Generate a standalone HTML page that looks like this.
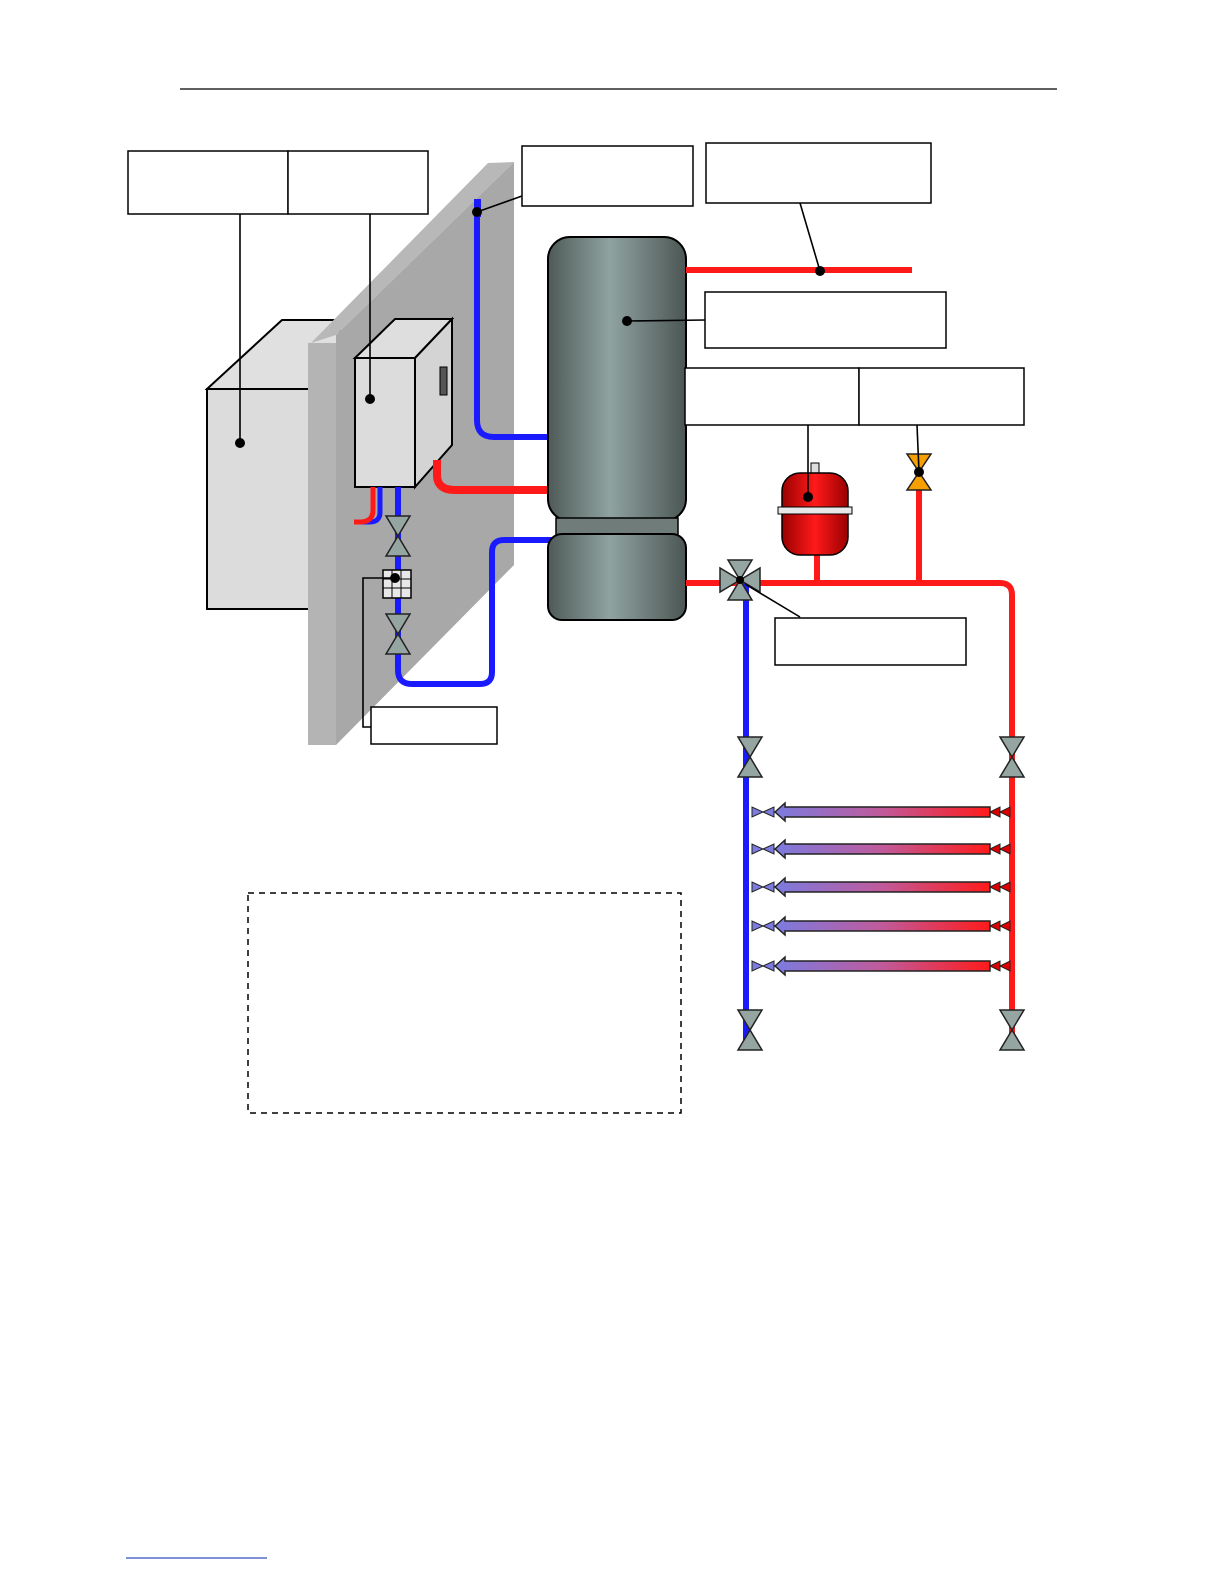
<!DOCTYPE html>
<html><head><meta charset="utf-8"><style>body{margin:0;background:#fff}svg{display:block}</style></head><body>
<svg width="1224" height="1584" viewBox="0 0 1224 1584" xmlns="http://www.w3.org/2000/svg">
<defs>
<linearGradient id="tank" x1="0" x2="1" y1="0" y2="0"><stop offset="0" stop-color="#4f5a58"/><stop offset="0.45" stop-color="#8fa3a0"/><stop offset="1" stop-color="#4c5654"/></linearGradient>
<linearGradient id="exp" x1="0" x2="1"><stop offset="0" stop-color="#9a0000"/><stop offset="0.5" stop-color="#ff1a1a"/><stop offset="1" stop-color="#9a0000"/></linearGradient>
<linearGradient id="arr" x1="0" x2="1"><stop offset="0" stop-color="#7b7be0"/><stop offset="0.5" stop-color="#c05a9a"/><stop offset="1" stop-color="#ff1a1a"/></linearGradient>
<g id="valve"><polygon points="-12,-20 12,-20 0,0" fill="#95a5a2" stroke="#222" stroke-width="1.5"/><polygon points="-12,20 12,20 0,0" fill="#95a5a2" stroke="#222" stroke-width="1.5"/></g>
<g id="arrow"><polygon points="0,0 10,-9 10,-5 215,-5 215,5 10,5 10,9" fill="url(#arr)" stroke="#222" stroke-width="1.5"/><polygon points="-23,-5 -23,5 -12,0" fill="#7b7be0" stroke="#222"/><polygon points="-1,-5 -1,5 -12,0" fill="#7b7be0" stroke="#222"/><polygon points="215,0 225,-5 225,5" fill="#d00" stroke="#222"/><polygon points="235,-5 235,5 225,0" fill="#d00" stroke="#222"/></g>
</defs>
<line x1="180" y1="89" x2="1057" y2="89" stroke="#000" stroke-width="1.2"/>
<!-- boiler -->
<polygon points="207,389 282,320 340,320 340,389" fill="#e0e0e0" stroke="#000" stroke-width="2"/>
<rect x="207" y="389" width="110" height="220" fill="#dcdcdc" stroke="#000" stroke-width="2"/>
<!-- wall -->
<polygon points="336,335 514,162 514,565 336,745" fill="#a8a8a8"/>
<polygon points="311,343 336,335 514,162 488,163" fill="#b8b8b8"/>
<rect x="308" y="343" width="28" height="402" fill="#b4b4b4"/>
<!-- controller box -->
<polygon points="355,358 395,319 452,319 415,358" fill="#dedede" stroke="#000" stroke-width="2"/>
<polygon points="415,358 452,319 452,445 415,487" fill="#d4d4d4" stroke="#000" stroke-width="2"/>
<rect x="355" y="358" width="60" height="129" fill="#dcdcdc" stroke="#000" stroke-width="2"/>
<rect x="440" y="367" width="7" height="28" fill="#555" stroke="#000"/>
<!-- pipes left -->
<g fill="none" stroke-linecap="butt">
<path d="M477,200 V420 Q477,437 494,437 H548" stroke="#1a1aff" stroke-width="6"/>
<path d="M437,460 V475 Q437,490 455,490 H548" stroke="#ff1a1a" stroke-width="8"/>
<path d="M380,487 V512 Q380,522 370,522 H357" stroke="#1a1aff" stroke-width="5"/>
<path d="M373,487 V510 Q373,522 360,522 H354" stroke="#ff1a1a" stroke-width="5"/>
<path d="M398,487 V670 Q398,684 412,684 H480 Q492,684 492,672 V552 Q492,540 504,540 H555" stroke="#1a1aff" stroke-width="6"/>
</g>
<rect x="474" y="199" width="7" height="18" fill="#1a1aff"/>
<use href="#valve" x="398" y="536"/>
<use href="#valve" x="398" y="634"/>
<rect x="383" y="570" width="28" height="28" fill="#e8e8e8" stroke="#000" stroke-width="1.5"/>
<path d="M383,579H411M383,588H411M392,570V598M401,570V598" stroke="#000"/>
<!-- tank -->
<rect x="548" y="237" width="138" height="284" rx="22" fill="url(#tank)" stroke="#000" stroke-width="2"/>
<rect x="556" y="518" width="122" height="20" fill="#6f7c7a" stroke="#000" stroke-width="1.5"/>
<rect x="548" y="534" width="138" height="86" rx="14" fill="url(#tank)" stroke="#000" stroke-width="2"/>
<!-- right pipes -->
<g fill="none">
<line x1="686" y1="270" x2="912" y2="270" stroke="#ff1a1a" stroke-width="6"/>
<path d="M686,583 H1000 Q1012,583 1012,595 V1040" stroke="#ff1a1a" stroke-width="6"/>
<line x1="746" y1="583" x2="746" y2="1040" stroke="#1a1aff" stroke-width="6"/>
<line x1="919" y1="490" x2="919" y2="583" stroke="#ff1a1a" stroke-width="6"/>
<line x1="817" y1="555" x2="817" y2="583" stroke="#ff1a1a" stroke-width="6"/>
</g>
<!-- expansion tank -->
<rect x="811" y="463" width="8" height="12" fill="#ddd" stroke="#000"/>
<rect x="782" y="473" width="66" height="82" rx="18" fill="url(#exp)" stroke="#000" stroke-width="1.5"/>
<rect x="778" y="507" width="74" height="7" fill="#e8e8e8" stroke="#000"/>
<!-- orange valve -->
<polygon points="907,454 931,454 919,472" fill="#f5a000" stroke="#222" stroke-width="1.5"/>
<polygon points="907,490 931,490 919,472" fill="#f5a000" stroke="#222" stroke-width="1.5"/>
<!-- 3 way valve -->
<g transform="translate(740,580)"><polygon points="-12,-20 12,-20 0,0" fill="#95a5a2" stroke="#222" stroke-width="1.5"/><polygon points="-12,20 12,20 0,0" fill="#95a5a2" stroke="#222" stroke-width="1.5"/><polygon points="-20,-12 -20,12 0,0" fill="#95a5a2" stroke="#222" stroke-width="1.5"/><polygon points="20,-12 20,12 0,0" fill="#95a5a2" stroke="#222" stroke-width="1.5"/></g>
<use href="#valve" x="750" y="757"/><use href="#valve" x="1012" y="757"/>
<use href="#valve" x="750" y="1030"/><use href="#valve" x="1012" y="1030"/>
<use href="#arrow" x="775" y="812"/><use href="#arrow" x="775" y="849"/><use href="#arrow" x="775" y="887"/><use href="#arrow" x="775" y="926"/><use href="#arrow" x="775" y="966"/>
<!-- label boxes -->
<g fill="#fff" stroke="#000" stroke-width="1.5">
<rect x="128" y="151" width="160" height="63"/><rect x="288" y="151" width="140" height="63"/>
<rect x="522" y="146" width="171" height="60"/><rect x="706" y="143" width="225" height="60"/>
<rect x="705" y="292" width="241" height="56"/><rect x="685" y="368" width="174" height="57"/>
<rect x="859" y="368" width="165" height="57"/><rect x="775" y="618" width="191" height="47"/>
<rect x="371" y="707" width="126" height="37"/>
</g>
<rect x="248" y="893" width="433" height="220" fill="none" stroke="#000" stroke-width="1.5" stroke-dasharray="6,5"/>
<!-- leaders -->
<g stroke="#000" stroke-width="1.6" fill="none">
<path d="M240,214V443"/><path d="M370,214V399"/><path d="M522,196L477,212"/><path d="M800,203L820,271"/>
<path d="M705,320L627,321"/><path d="M808,425V497"/><path d="M917,425L919,472"/><path d="M800,617L745,584"/>
<path d="M395,578H363V727H371"/>
</g>
<g fill="#000">
<circle cx="240" cy="443" r="5"/><circle cx="370" cy="399" r="5"/><circle cx="477" cy="212" r="5"/><circle cx="820" cy="271" r="5"/><circle cx="627" cy="321" r="5"/><circle cx="808" cy="497" r="5"/><circle cx="919" cy="472" r="5"/><circle cx="740" cy="580" r="4"/><circle cx="395" cy="578" r="5"/>
</g>
<line x1="126" y1="1558" x2="267" y2="1558" stroke="#3050c0" stroke-width="1.2"/>
</svg>
</body></html>
